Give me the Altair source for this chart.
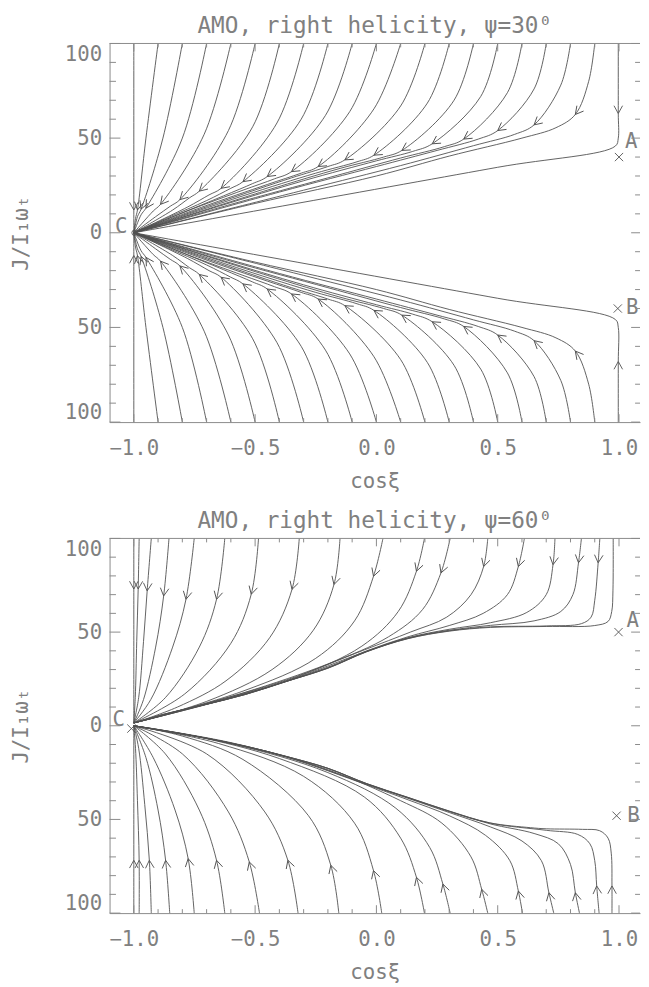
import math
import altair as alt
import pandas as pd

# ---------------- text ----------------
TITLE_TOP = "AMO, right helicity, ψ=30⁰"
TITLE_BOT = "AMO, right helicity, ψ=60⁰"
X_LABEL = "cosξ"
Y_LABEL = "J/I₁ωₜ"

# ---------------- axes ----------------
X_DOMAIN = [-1.1, 1.0866]
Y_DOMAIN = [-100, 100]
X_TICKS = [-1.0, -0.5, 0.0, 0.5, 1.0]
X_MINOR = [-0.9, -0.8, -0.7, -0.6, -0.4, -0.3, -0.2, -0.1, 0.1, 0.2, 0.3, 0.4, 0.6, 0.7, 0.8, 0.9]
Y_TICKS = [-100, -50, 0, 50, 100]
Y_MINOR = [-90, -80, -70, -60, -40, -30, -20, -10, 10, 20, 30, 40, 60, 70, 80, 90]

# ---------------- panel 1 (psi = 30) : upper half, flow order (start -> C) ----------------
P1_UP = {
    "xm": [(-1.0, 100), (-1.0, 12), (-1.0, 0)],
    "m9": [(-0.90, 100), (-0.95, 50), (-0.985, 12), (-0.993, 7.5), (-1.0, 0)],
    "m8": [(-0.80, 100), (-0.88, 50), (-0.97, 12.5), (-0.985, 8.5), (-1.0, 0)],
    "m7": [(-0.70, 100), (-0.80, 50), (-0.95, 13), (-0.97, 9.5), (-1.0, 0)],
    "m6": [(-0.60, 100), (-0.71, 52), (-0.89, 15), (-0.92, 11.5), (-1.0, 0)],
    "m5": [(-0.50, 100), (-0.61, 54), (-0.81, 17.5), (-0.85, 14), (-0.91, 8.5), (-1.0, 0)],
    "m4": [(-0.40, 100), (-0.51, 56), (-0.73, 22), (-0.77, 18.5), (-0.84, 12), (-1.0, 0)],
    "m3": [(-0.30, 100), (-0.41, 58), (-0.64, 23.5), (-0.69, 20), (-0.78, 13.5), (-1.0, 0)],
    "m2": [(-0.20, 100), (-0.31, 60), (-0.55, 27), (-0.60, 23.5), (-0.70, 17), (-0.86, 8), (-1.0, 0)],
    "m1": [(-0.10, 100), (-0.21, 62), (-0.45, 29.7), (-0.51, 26), (-0.63, 19.5), (-0.82, 9.5), (-1.0, 0)],
    "p0": [(0.00, 100), (-0.11, 64), (-0.35, 32.3), (-0.42, 28.5), (-0.55, 22.5), (-0.78, 11.5), (-1.0, 0)],
    "p1": [(0.10, 100), (-0.01, 65.5), (-0.24, 35), (-0.31, 31.5), (-0.45, 25.5), (-0.72, 13.5), (-1.0, 0)],
    "p2": [(0.20, 100), (0.10, 67), (-0.13, 38.5), (-0.20, 35), (-0.35, 29), (-0.65, 16), (-1.0, 0)],
    "p3": [(0.30, 100), (0.21, 68.5), (-0.01, 41), (-0.08, 37.5), (-0.25, 31.5), (-0.55, 19.5), (-1.0, 0)],
    "p4": [(0.40, 100), (0.32, 70), (0.105, 43.5), (0.03, 40), (-0.15, 34), (-0.45, 22.5), (-1.0, 0)],
    "p5": [(0.50, 100), (0.43, 72), (0.23, 47), (0.15, 43), (0.00, 38), (-0.30, 27.5), (-0.65, 14), (-1.0, 0)],
    "p6": [(0.60, 100), (0.54, 74), (0.36, 49.5), (0.28, 45.5), (0.10, 39.5), (-0.20, 29), (-0.60, 15), (-1.0, 0)],
    "p7": [(0.70, 100), (0.65, 76), (0.50, 54), (0.42, 49.5), (0.25, 43.5), (0.00, 35), (-0.40, 21.5), (-1.0, 0)],
    "p8": [(0.80, 100), (0.76, 78), (0.65, 57), (0.57, 52), (0.40, 46), (0.10, 35.5), (-0.30, 22.5), (-1.0, 0)],
    "p9": [(0.90, 100), (0.875, 80), (0.82, 62.5), (0.74, 55.5), (0.60, 50), (0.30, 40.5), (0.00, 30), (-0.50, 15.5), (-1.0, 0)],
    "xp": [(0.997, 100), (0.997, 63), (0.997, 50), (0.985, 45.8), (0.50, 34.6), (-1.0, 0)],
}
P1_UP_ARROWS = [("xm", 1), ("m9", 2), ("m8", 2), ("m7", 2), ("m6", 2), ("m5", 2), ("m4", 2),
                ("m3", 2), ("m2", 2), ("m1", 2), ("p0", 2), ("p1", 2), ("p2", 2), ("p3", 2),
                ("p4", 2), ("p5", 2), ("p6", 2), ("p7", 2), ("p8", 2), ("p9", 2), ("xp", 1)]
# the lower half of panel 1 mirrors the upper half, except the x = 1 line
P1_LOW_XP = [(0.997, -100), (0.997, -68), (0.997, -50), (0.985, -45.8), (0.50, -34.6), (-1.0, 0)]
P1_MARKS_X = [1.0, 0.995]
P1_MARKS_J = [40, -40]
P1_CIRCLE = [(-0.997, 0)]
P1_LABELS = [("A", 1.05, 48), ("B", 1.055, -40), ("C", -1.052, 3)]

# ---------------- panel 2 (psi = 60) ----------------
P2_UP = {
    "u00": [(-1.0, 100), (-1.0, 73), (-1.0, 1.5)],
    "u01": [(-0.978, 100), (-0.982, 73), (-0.988, 45), (-0.994, 15), (-1.0, 1.5)],
    "u02": [(-0.928, 100), (-0.945, 72), (-0.96, 45), (-0.98, 15), (-1.0, 1.5)],
    "u03": [(-0.855, 100), (-0.877, 69.3), (-0.91, 42), (-0.96, 14), (-1.0, 1.5)],
    "u04": [(-0.751, 100), (-0.785, 67.5), (-0.84, 42), (-0.93, 14), (-1.0, 1.5)],
    "u05": [(-0.625, 100), (-0.659, 67.5), (-0.73, 42), (-0.87, 15), (-1.0, 1.5)],
    "u06": [(-0.486, 100), (-0.516, 70.2), (-0.60, 44), (-0.79, 17), (-1.0, 1.5)],
    "u07": [(-0.318, 100), (-0.348, 72.8), (-0.44, 47), (-0.62, 24), (-0.82, 10), (-1.0, 1.5)],
    "u08": [(-0.150, 100), (-0.175, 75.4), (-0.26, 51), (-0.43, 30), (-0.70, 13), (-1.0, 1.5)],
    "u09": [(0.027, 100), (-0.012, 79.8), (-0.09, 56), (-0.25, 36), (-0.55, 18.5), (-1.0, 1.5)],
    "u10": [(0.198, 100), (0.165, 82.5), (0.09, 61), (-0.06, 42.5), (-0.35, 25), (-0.70, 11.5), (-1.0, 1.5)],
    "u11": [(0.304, 100), (0.266, 81.6), (0.19, 62), (0.05, 47.5), (-0.20, 33), (-0.55, 17.5), (-1.0, 1.5)],
    "u12": [(0.459, 100), (0.442, 85), (0.39, 70), (0.29, 58), (0.14, 50), (-0.05, 40.5), (-0.37, 24.5),
            (-0.71, 11.6), (-1.0, 1.5)],
    "u13": [(0.610, 100), (0.585, 85), (0.54, 70), (0.44, 60), (0.30, 53.5), (0.13, 47.5), (-0.04, 40),
            (-0.20, 31.3), (-0.54, 17), (-1.0, 1.5)],
    "u14": [(0.736, 100), (0.728, 86), (0.70, 70), (0.62, 60.5), (0.47, 55), (0.30, 51.5), (0.13, 47),
            (-0.04, 39.8), (-0.37, 23.9), (-0.71, 11.3), (-1.0, 1.5)],
    "u15": [(0.845, 100), (0.833, 87), (0.81, 70), (0.76, 61), (0.65, 56), (0.47, 53.6), (0.30, 51),
            (0.13, 46.8), (-0.04, 39.7), (-0.20, 30.9), (-0.37, 23.8), (-0.54, 16.8), (-0.71, 11.2),
            (-0.88, 6), (-1.0, 1.5)],
    "u16": [(0.921, 100), (0.914, 87), (0.90, 67), (0.885, 58), (0.845, 54.5), (0.70, 53.3), (0.47, 52.8),
            (0.30, 50.7), (0.13, 46.6), (-0.04, 39.6), (-0.20, 30.8), (-0.37, 23.7), (-0.54, 16.7),
            (-0.71, 11.2), (-0.88, 6), (-1.0, 1.5)],
    "u17": [(0.976, 100), (0.975, 72), (0.97, 61), (0.955, 55.7), (0.90, 53.5), (0.70, 53), (0.47, 52.5),
            (0.30, 50.5), (0.13, 46.5), (-0.04, 39.5), (-0.20, 30.7), (-0.37, 23.7), (-0.54, 16.7),
            (-0.71, 11.2), (-0.88, 6), (-1.0, 1.5)],
}
P2_UP_ARROWS = [("u00", 1), ("u01", 1), ("u02", 1), ("u03", 1), ("u04", 1), ("u05", 1), ("u06", 1),
                ("u07", 1), ("u08", 1), ("u09", 1), ("u10", 1), ("u11", 1), ("u12", 1), ("u13", 1),
                ("u14", 1), ("u15", 1), ("u16", 1)]
P2_LOW = {
    "l00": [(-1.0, -100), (-1.0, -71.8), (-1.0, 0)],
    "l01": [(-0.978, -100), (-0.978, -71.8), (-0.985, -40), (-0.993, -12), (-1.0, 0)],
    "l02": [(-0.928, -100), (-0.936, -71.8), (-0.955, -42), (-0.98, -12), (-1.0, 0)],
    "l03": [(-0.852, -100), (-0.869, -71.8), (-0.90, -45), (-0.95, -17), (-1.0, 0)],
    "l04": [(-0.751, -100), (-0.776, -70.9), (-0.83, -45), (-0.92, -17), (-1.0, 0)],
    "l05": [(-0.625, -100), (-0.659, -71.8), (-0.73, -45), (-0.87, -15), (-1.0, 0)],
    "l06": [(-0.482, -100), (-0.524, -72.7), (-0.61, -46), (-0.80, -15), (-1.0, 0)],
    "l07": [(-0.323, -100), (-0.365, -71.8), (-0.46, -46), (-0.70, -15), (-1.0, 0)],
    "l08": [(-0.155, -100), (-0.188, -74.5), (-0.28, -48), (-0.55, -18), (-0.80, -5.5), (-1.0, 0)],
    "l09": [(0.022, -100), (-0.012, -77.3), (-0.09, -52), (-0.30, -27), (-0.65, -9.5), (-1.0, 0)],
    "l10": [(0.198, -100), (0.165, -80.9), (0.10, -60), (-0.05, -38), (-0.40, -17.5), (-0.75, -5.5), (-1.0, 0)],
    "l11": [(0.304, -100), (0.274, -84.5), (0.22, -65), (0.08, -44), (-0.20, -25), (-0.60, -9.5), (-1.0, 0)],
    "l12": [(0.459, -100), (0.434, -87.3), (0.39, -70), (0.27, -52), (0.10, -40), (-0.20, -23.5),
            (-0.60, -9), (-1.0, 0)],
    "l13": [(0.602, -100), (0.585, -88.2), (0.55, -72), (0.45, -58.5), (0.30, -48), (0.13, -39.5),
            (-0.04, -31.5), (-0.37, -16.8), (-0.71, -6.5), (-1.0, 0)],
    "l14": [(0.731, -100), (0.711, -89.1), (0.68, -72), (0.60, -61.5), (0.47, -54), (0.30, -46.3),
            (0.13, -38.7), (-0.04, -31.2), (-0.37, -16.6), (-0.71, -6.4), (-1.0, 0)],
    "l15": [(0.837, -100), (0.82, -89.1), (0.80, -74), (0.75, -63), (0.65, -57.5), (0.47, -52.4),
            (0.30, -45.8), (0.13, -38.4), (-0.04, -31), (-0.20, -22.8), (-0.37, -16.5), (-0.54, -11),
            (-0.71, -6.4), (-0.88, -2.7), (-1.0, 0)],
    "l16": [(0.918, -100), (0.908, -85.5), (0.90, -72), (0.88, -63), (0.83, -58), (0.70, -55.8),
            (0.47, -52), (0.30, -45.6), (0.13, -38.3), (-0.04, -30.9), (-0.20, -22.7), (-0.37, -16.4),
            (-0.54, -10.9), (-0.71, -6.4), (-0.88, -2.7), (-1.0, 0)],
    "l17": [(0.971, -100), (0.971, -85.5), (0.968, -68), (0.955, -60), (0.92, -56), (0.85, -55.3),
            (0.70, -55), (0.635, -54.4), (0.467, -51.8), (0.30, -45.5), (0.13, -38.2), (-0.04, -30.9),
            (-0.20, -22.7), (-0.37, -16.4), (-0.54, -10.9), (-0.71, -6.4), (-0.88, -2.7), (-1.0, 0)],
}
P2_LOW_ARROWS = [(k, 1) for k in ["l00", "l01", "l02", "l03", "l04", "l05", "l06", "l07", "l08",
                                   "l09", "l10", "l11", "l12", "l13", "l14", "l15", "l16", "l17"]]
P2_MARKS_X = [0.998, 0.99, -1.01]
P2_MARKS_J = [50, -48, -1.5]
P2_LABELS = [("A", 1.057, 56), ("B", 1.06, -48), ("C", -1.062, 3)]

# ---------------- style ----------------
W = 538
H1 = 384
H2 = 380
LINE = "#505050"
AXC = "#8a8a8a"
TXT = "#808080"
FONT = "DejaVu Sans Mono"
ARROW = "M -0.55 -1 L 0 0 L 0.55 -1"
CROSS = "M -1 -1 L 1 1 M -1 1 L 1 -1"


def curve_frame(curves):
    rows = []
    for cid, pts in curves.items():
        for i, (x, j) in enumerate(pts):
            rows.append({"cid": cid, "i": i, "x": x, "J": j})
    return pd.DataFrame(rows)


def arrow_frame(curves, arrows, H):
    sx = W / (X_DOMAIN[1] - X_DOMAIN[0])
    sy = H / (Y_DOMAIN[1] - Y_DOMAIN[0])
    rows = []
    for cid, k in arrows:
        pts = curves[cid]
        x, j = pts[k]
        ux = uy = 0.0
        for a, b in [(pts[k - 1], pts[k]), (pts[k], pts[k + 1])]:
            dx = (b[0] - a[0]) * sx
            dy = -(b[1] - a[1]) * sy
            n = math.hypot(dx, dy) or 1.0
            ux += dx / n
            uy += dy / n
        ang = math.degrees(math.atan2(-ux, uy)) % 360
        rows.append({"x": x, "J": j, "ang": ang})
    return pd.DataFrame(rows)


def panel(curves, arrows, mx, mj, circles, labels, H, title):
    xs = alt.Scale(domain=X_DOMAIN, nice=False, zero=False)
    ys = alt.Scale(domain=Y_DOMAIN, nice=False, zero=False)
    common = dict(ticks=False, tickSize=0, grid=False, labelFontSize=21, titleFontSize=21,
                  labelColor=TXT, titleColor=TXT, labelFont=FONT, titleFont=FONT,
                  titleFontWeight="normal", domainColor=AXC)
    xax = alt.Axis(values=X_TICKS, format=".1f", title=X_LABEL, labelPadding=16, titlePadding=12, **common)
    yax = alt.Axis(values=Y_TICKS, labelExpr="format(abs(datum.value), 'd')", title=Y_LABEL,
                   labelPadding=8, labelFlush=True, titlePadding=33, **common)
    X = alt.X("x:Q", scale=xs, axis=xax)
    Y = alt.Y("J:Q", scale=ys, axis=yax)

    lines = alt.Chart(curve_frame(curves)).mark_line(
        interpolate="catmull-rom", color=LINE, strokeWidth=0.9
    ).encode(x=X, y=Y, detail="cid:N", order="i:Q")

    arr = alt.Chart(arrow_frame(curves, arrows, H)).mark_point(
        shape=ARROW, filled=False, color=LINE, strokeWidth=0.9, size=250, opacity=1
    ).encode(x=X, y=Y, angle=alt.Angle("ang:Q", scale=None))

    mk = alt.Chart(pd.DataFrame({"x": mx, "J": mj})).mark_point(
        shape=CROSS, filled=False, color=LINE, strokeWidth=0.9, size=70, opacity=1
    ).encode(x=X, y=Y)

    layers = [lines, arr, mk]
    if circles:
        cdf = pd.DataFrame({"x": [c[0] for c in circles], "J": [c[1] for c in circles]})
        layers.append(alt.Chart(cdf).mark_point(shape="circle", filled=False, color=LINE,
                                                strokeWidth=0.9, size=30, opacity=1).encode(x=X, y=Y))
    ldf = pd.DataFrame({"t": [l[0] for l in labels], "x": [l[1] for l in labels], "J": [l[2] for l in labels]})
    layers.append(alt.Chart(ldf).mark_text(fontSize=21, color=TXT, font=FONT).encode(x=X, y=Y, text="t:N"))

    # inward tick marks on all four sides
    ymaj = pd.DataFrame({"J": Y_TICKS})
    ymin = pd.DataFrame({"J": Y_MINOR})
    xmaj = pd.DataFrame({"x": X_TICKS})
    xmin = pd.DataFrame({"x": X_MINOR})
    tk = dict(color=AXC, strokeWidth=1)
    layers += [
        alt.Chart(ymaj).mark_rule(**tk).encode(y=Y, x=alt.value(0), x2=alt.value(11)),
        alt.Chart(ymin).mark_rule(**tk).encode(y=Y, x=alt.value(0), x2=alt.value(6.5)),
        alt.Chart(ymaj).mark_rule(**tk).encode(y=Y, x=alt.value(W - 9), x2=alt.value(W)),
        alt.Chart(ymin).mark_rule(**tk).encode(y=Y, x=alt.value(W - 5), x2=alt.value(W)),
        alt.Chart(xmaj).mark_rule(**tk).encode(x=X, y=alt.value(H - 8), y2=alt.value(H)),
        alt.Chart(xmin).mark_rule(**tk).encode(x=X, y=alt.value(H - 4), y2=alt.value(H)),
        alt.Chart(xmaj).mark_rule(**tk).encode(x=X, y=alt.value(0), y2=alt.value(8)),
        alt.Chart(xmin).mark_rule(**tk).encode(x=X, y=alt.value(0), y2=alt.value(4)),
        alt.Chart(pd.DataFrame({"k": [0]})).mark_rule(**tk).encode(
            y=alt.value(0), x=alt.value(0), x2=alt.value(W)),
    ]
    return alt.layer(*layers).properties(
        width=W, height=H,
        title=alt.TitleParams(text=title, fontSize=23, color=TXT, font=FONT, fontWeight="normal",
                              offset=4, anchor="middle"),
    )


p1_curves = dict(P1_UP)
p1_arrows = list(P1_UP_ARROWS)
for k, pts in P1_UP.items():
    if k == "xp":
        continue
    p1_curves[k + "_lo"] = [(x, -j) for x, j in pts]
    p1_arrows.append((k + "_lo", dict(P1_UP_ARROWS)[k]))
p1_curves["xp_lo"] = P1_LOW_XP
p1_arrows.append(("xp_lo", 1))

p1 = panel(p1_curves, p1_arrows, P1_MARKS_X, P1_MARKS_J, P1_CIRCLE, P1_LABELS, H1, TITLE_TOP)

p2_curves = dict(P2_UP)
p2_curves.update(P2_LOW)
p2 = panel(p2_curves, P2_UP_ARROWS + P2_LOW_ARROWS, P2_MARKS_X, P2_MARKS_J, [], P2_LABELS, H2, TITLE_BOT)

chart = alt.vconcat(p1, p2, spacing=19).properties(
    padding={"left": 3, "top": 0, "right": 0, "bottom": 0}
).configure(font=FONT).configure_view(strokeWidth=0).configure_axis(
    domainColor=AXC, domainWidth=1, labelColor=TXT, titleColor=TXT, labelFont=FONT, titleFont=FONT,
    labelFontSize=21, titleFontSize=21, titleFontWeight="normal", grid=False
)

chart.save("out.html", embed_options={"renderer": "svg", "actions": False})
